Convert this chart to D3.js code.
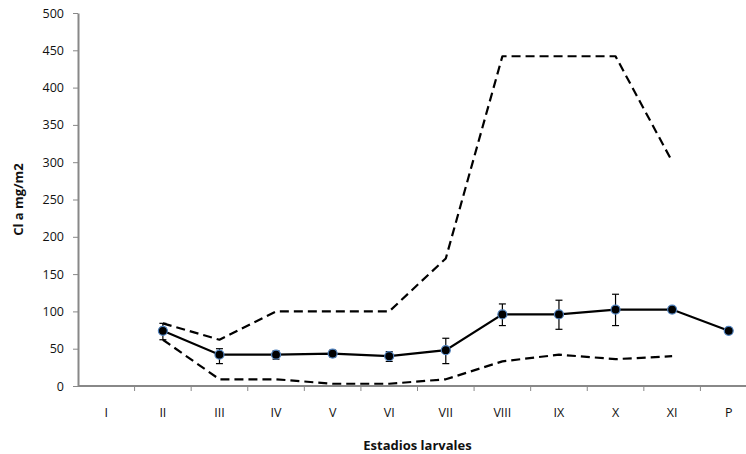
<!DOCTYPE html>
<html>
<head>
<meta charset="utf-8">
<title>Cl a</title>
<script src="https://d3js.org/d3.v7.min.js"></script>
<style>
  body { margin: 0; background: #fff; }
  text { font-family: "Open Sans", "Liberation Sans", sans-serif; fill: #111; }
  .axis path, .axis line { stroke: #888; }
</style>
</head>
<body>
<div id="chart"></div>
<script>
// stages (x categories)
var stages = ["I", "II", "III", "IV", "V", "VI", "VII", "VIII", "IX", "X", "XI", "P"];
// mean Cl a (solid line), null = no value
var meanVals = [null, 74, 42, 42, 43.5, 40, 48, 96, 96, 102.5, 102.5, 74];
// error bar low / high
var errLow = [null, 62, 30, 36, 39, 33, 30, 81, 76, 81, null, null];
var errHigh = [null, 84, 50, 47, 48, 46, 64, 110, 115, 123, null, null];
// upper and lower dashed envelopes
var upperVals = [null, 84, 62, 100, 100, 100, 171, 442, 442, 442, 301, null];
var lowerVals = [null, 62, 9, 9, 3, 3, 9, 33, 42, 36, 40, null];
var yTicks = [0, 50, 100, 150, 200, 250, 300, 350, 400, 450, 500];

var W = 746, H = 454;
var mLeft = 78, mRight = 757, mTop = 13, mBottom = 386;

var svg = d3.select("#chart").append("svg")
  .attr("width", W).attr("height", H);

var x = d3.scaleBand().domain(stages).range([mLeft, mRight]).padding(0);
var y = d3.scaleLinear().domain([0, 500]).range([mBottom, mTop]);
var cx = function (i) { return x(stages[i]) + x.bandwidth() / 2; };

// y axis
var yAxis = svg.append("g").attr("class", "axis")
  .attr("transform", "translate(" + mLeft + ",0)")
  .call(d3.axisLeft(y).tickValues(yTicks).tickSize(5).tickSizeOuter(0));
yAxis.select(".domain").attr("stroke-width", 2);
yAxis.selectAll("text").style("font-size", "12.5px").attr("x", -14);

// x axis, ticks at category boundaries
var xAxis = svg.append("g").attr("class", "axis")
  .attr("transform", "translate(0," + mBottom + ")");
xAxis.append("line").attr("x1", mLeft).attr("x2", mRight)
  .attr("stroke", "#888").attr("stroke-width", 2);
xAxis.selectAll(".tk").data(stages.slice(1)).enter().append("line")
  .attr("x1", function (d) { return x(d); }).attr("x2", function (d) { return x(d); })
  .attr("y1", 0).attr("y2", 5).attr("stroke", "#888");
xAxis.selectAll(".lbl").data(stages).enter().append("text")
  .attr("x", function (d) { return x(d) + x.bandwidth() / 2; })
  .attr("y", 31).attr("text-anchor", "middle")
  .style("font-size", "12.5px").text(function (d) { return d; });

// titles
svg.append("text").attr("x", (mLeft + mRight) / 2).attr("y", 450)
  .attr("text-anchor", "middle").style("font-size", "13px").style("font-weight", "bold")
  .text("Estadios larvales");
svg.append("text").attr("transform", "translate(23," + ((mTop + mBottom) / 2) + ") rotate(-90)")
  .attr("text-anchor", "middle").style("font-size", "13px").style("font-weight", "bold")
  .text("Cl a mg/m2");

var lineGen = d3.line()
  .defined(function (d) { return d != null; })
  .x(function (d, i) { return cx(i); })
  .y(function (d) { return y(d); });

// dashed envelopes
[upperVals, lowerVals].forEach(function (vals) {
  svg.append("path").datum(vals).attr("d", lineGen)
    .attr("fill", "none").attr("stroke", "#000").attr("stroke-width", 2.2)
    .attr("stroke-dasharray", "9,5").attr("stroke-linejoin", "round");
});

// error bars
var eb = svg.append("g").attr("stroke", "#000").attr("stroke-width", 1.2);
stages.forEach(function (s, i) {
  if (errLow[i] == null) return;
  var px = cx(i);
  eb.append("line").attr("x1", px).attr("x2", px).attr("y1", y(errLow[i])).attr("y2", y(errHigh[i]));
  eb.append("line").attr("x1", px - 3.5).attr("x2", px + 3.5).attr("y1", y(errLow[i])).attr("y2", y(errLow[i]));
  eb.append("line").attr("x1", px - 3.5).attr("x2", px + 3.5).attr("y1", y(errHigh[i])).attr("y2", y(errHigh[i]));
});

// mean line
svg.append("path").datum(meanVals).attr("d", lineGen)
  .attr("fill", "none").attr("stroke", "#000").attr("stroke-width", 2.2);

var pts = meanVals.map(function (v, i) { return { i: i, v: v }; })
  .filter(function (d) { return d.v != null; });
svg.selectAll(".pt").data(pts).enter().append("circle")
  .attr("cx", function (d) { return cx(d.i); })
  .attr("cy", function (d) { return y(d.v); })
  .attr("r", 4.5).attr("fill", "#000").attr("stroke", "#4f81bd").attr("stroke-width", 1.2);
</script>
</body>
</html>
